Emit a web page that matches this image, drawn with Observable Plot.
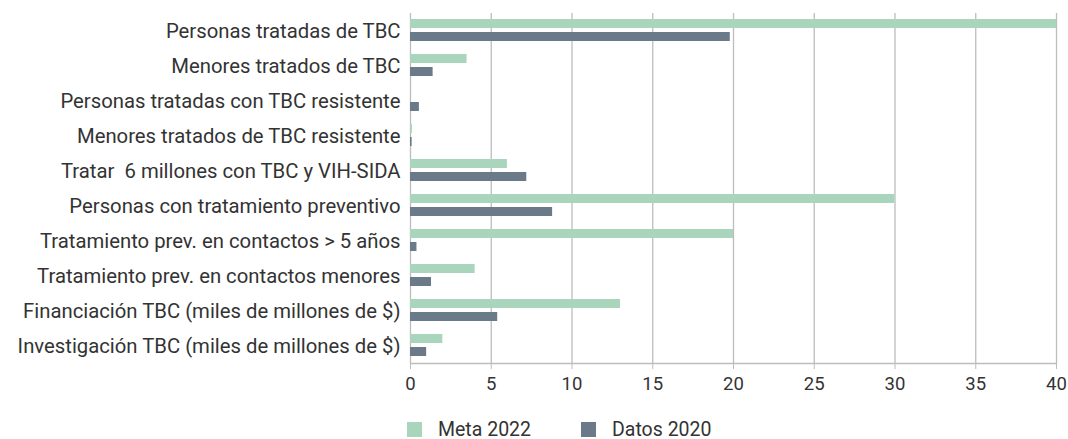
<!DOCTYPE html>
<html>
<head>
<meta charset="utf-8">
<script src="https://cdn.jsdelivr.net/npm/d3@7"></script>
<script src="https://cdn.jsdelivr.net/npm/@observablehq/plot@0.6"></script>
<style>
  html, body { margin: 0; padding: 0; background: #fff; }
  body { font-family: Roboto, "Noto Sans", sans-serif; }
  #legend { display: flex; align-items: center; height: 35px; margin-top: 8px; padding-left: 407px; font-size: 19.5px; color: #333; }
  .item { display: flex; align-items: center; margin-right: 50px; }
  .sw { width: 15px; height: 15px; margin-right: 16px; }
</style>
</head>
<body>
<div id="chart"></div>
<div id="legend"></div>
<script>
const categories = [
  "Personas tratadas de TBC",
  "Menores tratados de TBC",
  "Personas tratadas con TBC resistente",
  "Menores tratados de TBC resistente",
  "Tratar  6 millones con TBC y VIH-SIDA",
  "Personas con tratamiento preventivo",
  "Tratamiento prev. en contactos > 5 años",
  "Tratamiento prev. en contactos menores",
  "Financiación TBC (miles de millones de $)",
  "Investigación TBC (miles de millones de $)"
];
const seriesNames = ["Meta 2022", "Datos 2020"];
const meta2022 = [40, 3.5, 0, 0.12, 6, 30, 20, 4, 13, 2];
const datos2020 = [19.8, 1.4, 0.55, 0.1, 7.2, 8.8, 0.4, 1.3, 5.4, 1.0];
const xTicks = [0, 5, 10, 15, 20, 25, 30, 35, 40];
const colors = ["#a8d5bc", "#6a7a88"];

const data = [];
categories.forEach((c, i) => {
  data.push({category: c, series: seriesNames[0], value: meta2022[i]});
  data.push({category: c, series: seriesNames[1], value: datos2020[i]});
});

const chart = Plot.plot({
  width: 1068,
  height: 404,
  marginTop: 12,
  marginBottom: 40,
  marginLeft: 410,
  marginRight: 12,
  style: {fontFamily: "Roboto, sans-serif", color: "#333", background: "#fff"},
  x: {domain: [0, 40], label: null},
  fy: {domain: categories, padding: 0, label: null},
  y: {domain: seriesNames, paddingInner: 0.29, paddingOuter: 0.4, axis: null},
  color: {domain: seriesNames, range: colors},
  marks: [
    Plot.gridX(xTicks, {stroke: "#bdbdbd", strokeOpacity: 1, strokeWidth: 1.3}),
    Plot.barX(data, {fy: "category", y: "series", x: "value", fill: "series"}),
    Plot.frame({anchor: "bottom", facetAnchor: "bottom", stroke: "#bdbdbd", strokeWidth: 1.3}),
    Plot.axisX({ticks: xTicks, tickSize: 6, tickPadding: 7, fontSize: 18.5, stroke: "#bdbdbd", label: null}),
    Plot.axisFy({anchor: "left", tickSize: 0, tickPadding: 10, fontSize: 20.3, label: null})
  ]
});
document.getElementById("chart").appendChild(chart);

const legend = document.getElementById("legend");
seriesNames.forEach((s, i) => {
  const item = document.createElement("div");
  item.className = "item";
  const sw = document.createElement("div");
  sw.className = "sw";
  sw.style.background = colors[i];
  const t = document.createElement("span");
  t.textContent = s;
  item.appendChild(sw);
  item.appendChild(t);
  legend.appendChild(item);
});
</script>
</body>
</html>
